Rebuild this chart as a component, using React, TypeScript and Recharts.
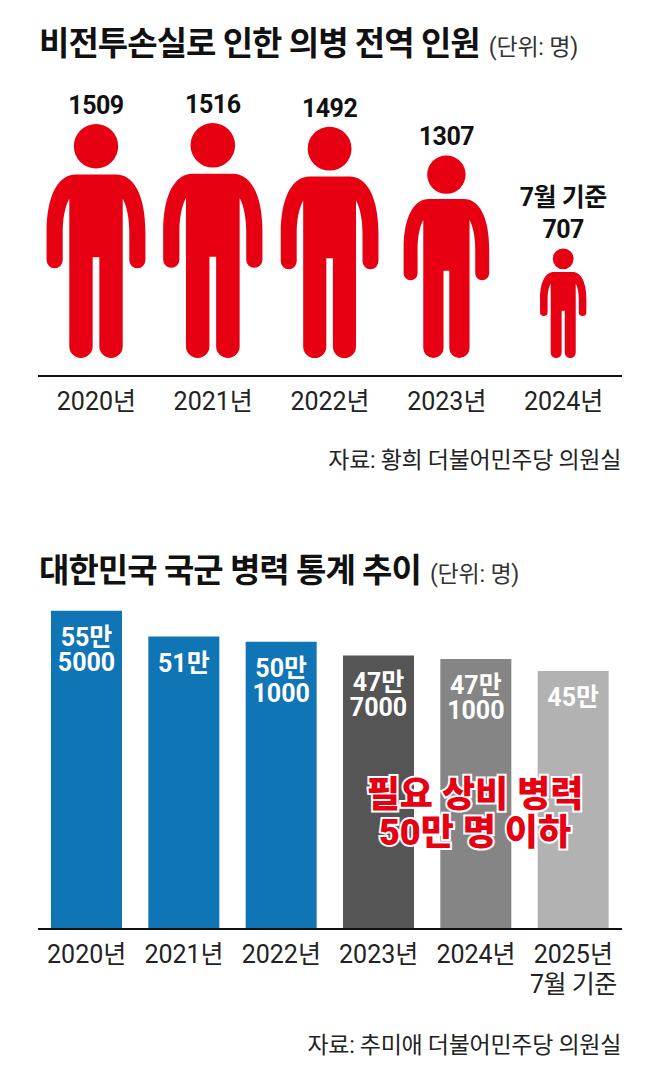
import { BarChart, Bar, Cell, XAxis, YAxis, LabelList } from 'recharts'

const FONT = 'Roboto, "Noto Sans CJK KR", sans-serif'
const RED = '#e60012'

const dischargeYears = ['2020년', '2021년', '2022년', '2023년', '2024년']
const dischargeValues = [1509, 1516, 1492, 1307, 707]
const dischargeNotes = ['', '', '', '', '7월 기준']

const troopYears = ['2020년', '2021년', '2022년', '2023년', '2024년', '2025년']
const troopNotes = ['', '', '', '', '', '7월 기준']
const troopValues = [555000, 510000, 501000, 477000, 471000, 450000]
const troopLabels = [
  ['55만', '5000'],
  ['51만'],
  ['50만', '1000'],
  ['47만', '7000'],
  ['47만', '1000'],
  ['45만'],
]
const troopColors = ['#0f75b5', '#0f75b5', '#0f75b5', '#565556', '#858585', '#b2b2b2']

const dischargeData = dischargeYears.map((year, i) => ({
  year,
  value: dischargeValues[i],
}))

const troopData = troopYears.map((year, i) => ({
  year,
  value: troopValues[i],
}))

// pictogram drawn at 232px tall, origin at the top centre of the head
const BODY =
  'M-20 50 H20 C37 50 49 70 49 107 V135 A8 8 0 0 1 33 135 V107 C33 95 31 82 26.5 74 V220.4 ' +
  'A11.6 11.6 0 0 1 3.3 220.4 V132 H-3.3 V220.4 A11.6 11.6 0 0 1 -26.5 220.4 V74 ' +
  'C-31 82 -33 95 -33 107 V135 A8 8 0 0 1 -49 135 V107 C-49 70 -37 50 -20 50 Z'

function Person({ x, y, width, height }: any) {
  const s = height / 232
  return (
    <g transform={`translate(${x + width / 2} ${y}) scale(${s})`} fill={RED}>
      <circle cx={0} cy={22} r={22} />
      <path d={BODY} />
    </g>
  )
}

function PersonLabel({ x, y, width, value, index }: any) {
  const cx = x + width / 2
  const note = dischargeNotes[index]
  return (
    <g fontFamily={FONT} fontSize={25} fontWeight={700} fill="#111" textAnchor="middle">
      {note ? (
        <text x={cx} y={y - 42} letterSpacing={-0.5}>
          {note}
        </text>
      ) : null}
      <text x={cx} y={y - 10} letterSpacing={-0.5}>
        {value}
      </text>
    </g>
  )
}

function BarLabel({ x, y, width, index }: any) {
  const cx = x + width / 2
  return (
    <g fontFamily={FONT} fontSize={25} fontWeight={700} fill="#fff" textAnchor="middle">
      {troopLabels[index].map((line, i) => (
        <text key={line} x={cx} y={y + 35 + i * 25}>
          {line}
        </text>
      ))}
    </g>
  )
}

function YearTick({ x, y, payload, index, notes }: any) {
  const note = notes ? notes[index] : ''
  return (
    <g fontFamily={FONT} fontSize={25} fill="#222" textAnchor="middle">
      <text x={x} y={y + 26} letterSpacing={0}>
        {payload.value}
      </text>
      {note ? (
        <text x={x} y={y + 56} letterSpacing={-0.5}>
          {note}
        </text>
      ) : null}
    </g>
  )
}

function Title({ top, text, unit, gap }: { top: number; text: string; unit: string; gap: number }) {
  return (
    <div style={{ position: 'absolute', left: 39, top, whiteSpace: 'nowrap', lineHeight: '44px', color: '#111' }}>
      <span style={{ fontSize: 33, fontWeight: 700, letterSpacing: -0.95 }}>{text}</span>
      <span style={{ fontSize: 23, marginLeft: gap, color: '#333', letterSpacing: -0.2 }}>{unit}</span>
    </div>
  )
}

function Source({ top, text }: { top: number; text: string }) {
  return (
    <div style={{ position: 'absolute', right: 37, top, fontSize: 23, lineHeight: '30px', color: '#222', letterSpacing: -0.3, whiteSpace: 'nowrap' }}>
      {text}
    </div>
  )
}

export default function App() {
  return (
    <div style={{ position: 'absolute', left: 0, top: 0, width: 658, height: 1085, background: '#fff', fontFamily: FONT, overflow: 'hidden' }}>
      <Title top={22} text="비전투손실로 인한 의병 전역 인원" unit="(단위: 명)" gap={9} />
      <div style={{ position: 'absolute', left: 0, top: 0 }}>
        <BarChart width={658} height={430} data={dischargeData} margin={{ top: 110, right: 36, bottom: 0, left: 38 }}>
          <YAxis hide domain={[-116, 1600]} />
          <XAxis
            dataKey="year"
            height={54}
            interval={0}
            tickLine={false}
            axisLine={{ stroke: '#111', strokeWidth: 2 }}
            tick={<YearTick />}
          />
          <Bar dataKey="value" barSize={100} shape={<Person />} isAnimationActive={false}>
            <LabelList dataKey="value" content={<PersonLabel />} />
          </Bar>
        </BarChart>
      </div>
      <Source top={446} text="자료: 황희 더불어민주당 의원실" />

      <Title top={549} text="대한민국 국군 병력 통계 추이" unit="(단위: 명)" gap={9} />
      <div style={{ position: 'absolute', left: 0, top: 500 }}>
        <BarChart width={658} height={520} data={troopData} margin={{ top: 85, right: 36, bottom: 0, left: 38 }}>
          <YAxis hide domain={[0, 600000]} />
          <XAxis
            dataKey="year"
            height={91}
            interval={0}
            tickLine={false}
            axisLine={{ stroke: '#111', strokeWidth: 2 }}
            tick={<YearTick notes={troopNotes} />}
          />
          <Bar dataKey="value" barSize={71} isAnimationActive={false}>
            {troopData.map((d, i) => (
              <Cell key={d.year} fill={troopColors[i]} />
            ))}
            <LabelList dataKey="value" content={<BarLabel />} />
          </Bar>
        </BarChart>
      </div>
      <div
        style={{
          position: 'absolute',
          left: 325,
          width: 300,
          top: 776,
          textAlign: 'center',
          fontSize: 36,
          lineHeight: '38px',
          fontWeight: 900,
          color: RED,
          WebkitTextStroke: '4px #fff',
          paintOrder: 'stroke fill',
        }}
      >
        필요 상비 병력
        <br />
        50만 명 이하
      </div>
      <Source top={1031} text="자료: 추미애 더불어민주당 의원실" />
    </div>
  )
}
